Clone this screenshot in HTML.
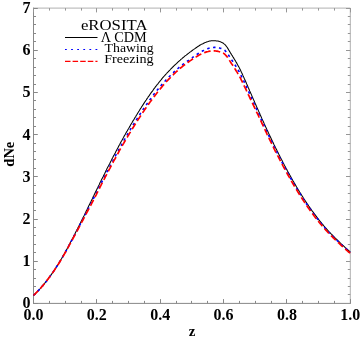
<!DOCTYPE html>
<html><head><meta charset="utf-8">
<style>
html,body{margin:0;padding:0;background:#fff;}
body{width:360px;height:339px;overflow:hidden;}
svg{display:block;will-change:transform;}
text{font-family:"Liberation Serif",serif;}
</style></head><body>
<svg width="360" height="339" viewBox="0 0 360 339">
<rect width="360" height="339" fill="#fff"/>
<g fill="none" stroke-width="1">
<line x1="33.5" y1="8.1" x2="350.3" y2="8.1" stroke="#b0b0b0"/>
<line x1="350.3" y1="8.1" x2="350.3" y2="303.4" stroke="#b0b0b0"/>
<line x1="33.5" y1="7.6" x2="33.5" y2="303.9" stroke="#888"/>
<line x1="33.5" y1="303.4" x2="350.8" y2="303.4" stroke="#888"/>
<line x1="33.5" y1="303.50" x2="37.8" y2="303.50" stroke="#888" stroke-width="1"/>
<line x1="350.3" y1="303.50" x2="346.0" y2="303.50" stroke="#969696" stroke-width="1"/>
<line x1="33.5" y1="294.50" x2="36.0" y2="294.50" stroke="#888" stroke-width="1"/>
<line x1="350.3" y1="294.50" x2="347.8" y2="294.50" stroke="#969696" stroke-width="1"/>
<line x1="33.5" y1="286.50" x2="36.0" y2="286.50" stroke="#888" stroke-width="1"/>
<line x1="350.3" y1="286.50" x2="347.8" y2="286.50" stroke="#969696" stroke-width="1"/>
<line x1="33.5" y1="278.50" x2="36.0" y2="278.50" stroke="#888" stroke-width="1"/>
<line x1="350.3" y1="278.50" x2="347.8" y2="278.50" stroke="#969696" stroke-width="1"/>
<line x1="33.5" y1="269.50" x2="36.0" y2="269.50" stroke="#888" stroke-width="1"/>
<line x1="350.3" y1="269.50" x2="347.8" y2="269.50" stroke="#969696" stroke-width="1"/>
<line x1="33.5" y1="261.50" x2="37.8" y2="261.50" stroke="#888" stroke-width="1"/>
<line x1="350.3" y1="261.50" x2="346.0" y2="261.50" stroke="#969696" stroke-width="1"/>
<line x1="33.5" y1="252.50" x2="36.0" y2="252.50" stroke="#888" stroke-width="1"/>
<line x1="350.3" y1="252.50" x2="347.8" y2="252.50" stroke="#969696" stroke-width="1"/>
<line x1="33.5" y1="244.50" x2="36.0" y2="244.50" stroke="#888" stroke-width="1"/>
<line x1="350.3" y1="244.50" x2="347.8" y2="244.50" stroke="#969696" stroke-width="1"/>
<line x1="33.5" y1="235.50" x2="36.0" y2="235.50" stroke="#888" stroke-width="1"/>
<line x1="350.3" y1="235.50" x2="347.8" y2="235.50" stroke="#969696" stroke-width="1"/>
<line x1="33.5" y1="227.50" x2="36.0" y2="227.50" stroke="#888" stroke-width="1"/>
<line x1="350.3" y1="227.50" x2="347.8" y2="227.50" stroke="#969696" stroke-width="1"/>
<line x1="33.5" y1="219.50" x2="37.8" y2="219.50" stroke="#888" stroke-width="1"/>
<line x1="350.3" y1="219.50" x2="346.0" y2="219.50" stroke="#969696" stroke-width="1"/>
<line x1="33.5" y1="210.50" x2="36.0" y2="210.50" stroke="#888" stroke-width="1"/>
<line x1="350.3" y1="210.50" x2="347.8" y2="210.50" stroke="#969696" stroke-width="1"/>
<line x1="33.5" y1="202.50" x2="36.0" y2="202.50" stroke="#888" stroke-width="1"/>
<line x1="350.3" y1="202.50" x2="347.8" y2="202.50" stroke="#969696" stroke-width="1"/>
<line x1="33.5" y1="193.50" x2="36.0" y2="193.50" stroke="#888" stroke-width="1"/>
<line x1="350.3" y1="193.50" x2="347.8" y2="193.50" stroke="#969696" stroke-width="1"/>
<line x1="33.5" y1="185.50" x2="36.0" y2="185.50" stroke="#888" stroke-width="1"/>
<line x1="350.3" y1="185.50" x2="347.8" y2="185.50" stroke="#969696" stroke-width="1"/>
<line x1="33.5" y1="176.50" x2="37.8" y2="176.50" stroke="#888" stroke-width="1"/>
<line x1="350.3" y1="176.50" x2="346.0" y2="176.50" stroke="#969696" stroke-width="1"/>
<line x1="33.5" y1="168.50" x2="36.0" y2="168.50" stroke="#888" stroke-width="1"/>
<line x1="350.3" y1="168.50" x2="347.8" y2="168.50" stroke="#969696" stroke-width="1"/>
<line x1="33.5" y1="159.50" x2="36.0" y2="159.50" stroke="#888" stroke-width="1"/>
<line x1="350.3" y1="159.50" x2="347.8" y2="159.50" stroke="#969696" stroke-width="1"/>
<line x1="33.5" y1="151.50" x2="36.0" y2="151.50" stroke="#888" stroke-width="1"/>
<line x1="350.3" y1="151.50" x2="347.8" y2="151.50" stroke="#969696" stroke-width="1"/>
<line x1="33.5" y1="143.50" x2="36.0" y2="143.50" stroke="#888" stroke-width="1"/>
<line x1="350.3" y1="143.50" x2="347.8" y2="143.50" stroke="#969696" stroke-width="1"/>
<line x1="33.5" y1="134.50" x2="37.8" y2="134.50" stroke="#888" stroke-width="1"/>
<line x1="350.3" y1="134.50" x2="346.0" y2="134.50" stroke="#969696" stroke-width="1"/>
<line x1="33.5" y1="126.50" x2="36.0" y2="126.50" stroke="#888" stroke-width="1"/>
<line x1="350.3" y1="126.50" x2="347.8" y2="126.50" stroke="#969696" stroke-width="1"/>
<line x1="33.5" y1="117.50" x2="36.0" y2="117.50" stroke="#888" stroke-width="1"/>
<line x1="350.3" y1="117.50" x2="347.8" y2="117.50" stroke="#969696" stroke-width="1"/>
<line x1="33.5" y1="109.50" x2="36.0" y2="109.50" stroke="#888" stroke-width="1"/>
<line x1="350.3" y1="109.50" x2="347.8" y2="109.50" stroke="#969696" stroke-width="1"/>
<line x1="33.5" y1="100.50" x2="36.0" y2="100.50" stroke="#888" stroke-width="1"/>
<line x1="350.3" y1="100.50" x2="347.8" y2="100.50" stroke="#969696" stroke-width="1"/>
<line x1="33.5" y1="92.50" x2="37.8" y2="92.50" stroke="#888" stroke-width="1"/>
<line x1="350.3" y1="92.50" x2="346.0" y2="92.50" stroke="#969696" stroke-width="1"/>
<line x1="33.5" y1="84.50" x2="36.0" y2="84.50" stroke="#888" stroke-width="1"/>
<line x1="350.3" y1="84.50" x2="347.8" y2="84.50" stroke="#969696" stroke-width="1"/>
<line x1="33.5" y1="75.50" x2="36.0" y2="75.50" stroke="#888" stroke-width="1"/>
<line x1="350.3" y1="75.50" x2="347.8" y2="75.50" stroke="#969696" stroke-width="1"/>
<line x1="33.5" y1="67.50" x2="36.0" y2="67.50" stroke="#888" stroke-width="1"/>
<line x1="350.3" y1="67.50" x2="347.8" y2="67.50" stroke="#969696" stroke-width="1"/>
<line x1="33.5" y1="58.50" x2="36.0" y2="58.50" stroke="#888" stroke-width="1"/>
<line x1="350.3" y1="58.50" x2="347.8" y2="58.50" stroke="#969696" stroke-width="1"/>
<line x1="33.5" y1="50.50" x2="37.8" y2="50.50" stroke="#888" stroke-width="1"/>
<line x1="350.3" y1="50.50" x2="346.0" y2="50.50" stroke="#969696" stroke-width="1"/>
<line x1="33.5" y1="41.50" x2="36.0" y2="41.50" stroke="#888" stroke-width="1"/>
<line x1="350.3" y1="41.50" x2="347.8" y2="41.50" stroke="#969696" stroke-width="1"/>
<line x1="33.5" y1="33.50" x2="36.0" y2="33.50" stroke="#888" stroke-width="1"/>
<line x1="350.3" y1="33.50" x2="347.8" y2="33.50" stroke="#969696" stroke-width="1"/>
<line x1="33.5" y1="24.50" x2="36.0" y2="24.50" stroke="#888" stroke-width="1"/>
<line x1="350.3" y1="24.50" x2="347.8" y2="24.50" stroke="#969696" stroke-width="1"/>
<line x1="33.5" y1="16.50" x2="36.0" y2="16.50" stroke="#888" stroke-width="1"/>
<line x1="350.3" y1="16.50" x2="347.8" y2="16.50" stroke="#969696" stroke-width="1"/>
<line x1="33.5" y1="8.50" x2="37.8" y2="8.50" stroke="#888" stroke-width="1"/>
<line x1="350.3" y1="8.50" x2="346.0" y2="8.50" stroke="#969696" stroke-width="1"/>
<line x1="33.50" y1="303.4" x2="33.50" y2="299.09999999999997" stroke="#888" stroke-width="1"/>
<line x1="33.50" y1="8.1" x2="33.50" y2="12.399999999999999" stroke="#969696" stroke-width="1"/>
<line x1="49.50" y1="303.4" x2="49.50" y2="300.9" stroke="#888" stroke-width="1"/>
<line x1="49.50" y1="8.1" x2="49.50" y2="10.6" stroke="#969696" stroke-width="1"/>
<line x1="65.50" y1="303.4" x2="65.50" y2="300.9" stroke="#888" stroke-width="1"/>
<line x1="65.50" y1="8.1" x2="65.50" y2="10.6" stroke="#969696" stroke-width="1"/>
<line x1="81.50" y1="303.4" x2="81.50" y2="300.9" stroke="#888" stroke-width="1"/>
<line x1="81.50" y1="8.1" x2="81.50" y2="10.6" stroke="#969696" stroke-width="1"/>
<line x1="96.50" y1="303.4" x2="96.50" y2="299.09999999999997" stroke="#888" stroke-width="1"/>
<line x1="96.50" y1="8.1" x2="96.50" y2="12.399999999999999" stroke="#969696" stroke-width="1"/>
<line x1="112.50" y1="303.4" x2="112.50" y2="300.9" stroke="#888" stroke-width="1"/>
<line x1="112.50" y1="8.1" x2="112.50" y2="10.6" stroke="#969696" stroke-width="1"/>
<line x1="128.50" y1="303.4" x2="128.50" y2="300.9" stroke="#888" stroke-width="1"/>
<line x1="128.50" y1="8.1" x2="128.50" y2="10.6" stroke="#969696" stroke-width="1"/>
<line x1="144.50" y1="303.4" x2="144.50" y2="300.9" stroke="#888" stroke-width="1"/>
<line x1="144.50" y1="8.1" x2="144.50" y2="10.6" stroke="#969696" stroke-width="1"/>
<line x1="160.50" y1="303.4" x2="160.50" y2="299.09999999999997" stroke="#888" stroke-width="1"/>
<line x1="160.50" y1="8.1" x2="160.50" y2="12.399999999999999" stroke="#969696" stroke-width="1"/>
<line x1="176.50" y1="303.4" x2="176.50" y2="300.9" stroke="#888" stroke-width="1"/>
<line x1="176.50" y1="8.1" x2="176.50" y2="10.6" stroke="#969696" stroke-width="1"/>
<line x1="191.50" y1="303.4" x2="191.50" y2="300.9" stroke="#888" stroke-width="1"/>
<line x1="191.50" y1="8.1" x2="191.50" y2="10.6" stroke="#969696" stroke-width="1"/>
<line x1="207.50" y1="303.4" x2="207.50" y2="300.9" stroke="#888" stroke-width="1"/>
<line x1="207.50" y1="8.1" x2="207.50" y2="10.6" stroke="#969696" stroke-width="1"/>
<line x1="223.50" y1="303.4" x2="223.50" y2="299.09999999999997" stroke="#888" stroke-width="1"/>
<line x1="223.50" y1="8.1" x2="223.50" y2="12.399999999999999" stroke="#969696" stroke-width="1"/>
<line x1="239.50" y1="303.4" x2="239.50" y2="300.9" stroke="#888" stroke-width="1"/>
<line x1="239.50" y1="8.1" x2="239.50" y2="10.6" stroke="#969696" stroke-width="1"/>
<line x1="255.50" y1="303.4" x2="255.50" y2="300.9" stroke="#888" stroke-width="1"/>
<line x1="255.50" y1="8.1" x2="255.50" y2="10.6" stroke="#969696" stroke-width="1"/>
<line x1="271.50" y1="303.4" x2="271.50" y2="300.9" stroke="#888" stroke-width="1"/>
<line x1="271.50" y1="8.1" x2="271.50" y2="10.6" stroke="#969696" stroke-width="1"/>
<line x1="286.50" y1="303.4" x2="286.50" y2="299.09999999999997" stroke="#888" stroke-width="1"/>
<line x1="286.50" y1="8.1" x2="286.50" y2="12.399999999999999" stroke="#969696" stroke-width="1"/>
<line x1="302.50" y1="303.4" x2="302.50" y2="300.9" stroke="#888" stroke-width="1"/>
<line x1="302.50" y1="8.1" x2="302.50" y2="10.6" stroke="#969696" stroke-width="1"/>
<line x1="318.50" y1="303.4" x2="318.50" y2="300.9" stroke="#888" stroke-width="1"/>
<line x1="318.50" y1="8.1" x2="318.50" y2="10.6" stroke="#969696" stroke-width="1"/>
<line x1="334.50" y1="303.4" x2="334.50" y2="300.9" stroke="#888" stroke-width="1"/>
<line x1="334.50" y1="8.1" x2="334.50" y2="10.6" stroke="#969696" stroke-width="1"/>
<line x1="350.50" y1="303.4" x2="350.50" y2="299.09999999999997" stroke="#888" stroke-width="1"/>
<line x1="350.50" y1="8.1" x2="350.50" y2="12.399999999999999" stroke="#969696" stroke-width="1"/>
</g>
<g fill="none" stroke-linejoin="round">
<path d="M33.5,295.4 L34.3,294.7 L35.0,294.0 L35.8,293.2 L36.5,292.5 L37.3,291.7 L38.0,290.9 L38.8,290.1 L39.5,289.3 L40.3,288.5 L41.1,287.6 L41.8,286.7 L42.6,285.9 L43.3,285.0 L44.1,284.0 L44.8,283.1 L45.6,282.2 L46.4,281.2 L47.1,280.2 L47.9,279.2 L48.6,278.2 L49.4,277.2 L50.1,276.2 L50.9,275.1 L51.6,274.1 L52.4,273.0 L53.2,271.9 L53.9,270.8 L54.7,269.6 L55.4,268.5 L56.2,267.3 L56.9,266.1 L57.7,265.0 L58.5,263.7 L59.2,262.5 L60.0,261.3 L60.7,260.0 L61.5,258.8 L62.2,257.5 L63.0,256.2 L63.7,254.8 L64.5,253.5 L65.3,252.1 L66.0,250.7 L66.8,249.4 L67.5,248.0 L68.3,246.5 L69.0,245.1 L69.8,243.7 L70.5,242.2 L71.3,240.8 L72.1,239.3 L72.8,237.9 L73.6,236.4 L74.3,234.9 L75.1,233.5 L75.8,232.0 L76.6,230.5 L77.4,229.0 L78.1,227.5 L78.9,226.0 L79.6,224.5 L80.4,223.0 L81.1,221.5 L81.9,220.0 L82.6,218.4 L83.4,216.9 L84.2,215.4 L84.9,213.9 L85.7,212.3 L86.4,210.8 L87.2,209.2 L87.9,207.7 L88.7,206.1 L89.5,204.6 L90.2,203.0 L91.0,201.5 L91.7,199.9 L92.5,198.4 L93.2,196.8 L94.0,195.2 L94.7,193.7 L95.5,192.1 L96.3,190.6 L97.0,189.0 L97.8,187.5 L98.5,185.9 L99.3,184.4 L100.0,182.8 L100.8,181.3 L101.5,179.8 L102.3,178.2 L103.1,176.7 L103.8,175.2 L104.6,173.7 L105.3,172.2 L106.1,170.6 L106.8,169.1 L107.6,167.6 L108.4,166.1 L109.1,164.7 L109.9,163.2 L110.6,161.7 L111.4,160.2 L112.1,158.8 L112.9,157.3 L113.6,155.8 L114.4,154.4 L115.2,152.9 L115.9,151.5 L116.7,150.1 L117.4,148.6 L118.2,147.2 L118.9,145.8 L119.7,144.4 L120.4,143.0 L121.2,141.6 L122.0,140.2 L122.7,138.9 L123.5,137.5 L124.2,136.1 L125.0,134.8 L125.7,133.5 L126.5,132.1 L127.3,130.8 L128.0,129.5 L128.8,128.2 L129.5,126.9 L130.3,125.6 L131.0,124.3 L131.8,123.0 L132.5,121.7 L133.3,120.4 L134.1,119.2 L134.8,117.9 L135.6,116.7 L136.3,115.4 L137.1,114.2 L137.8,113.0 L138.6,111.7 L139.4,110.5 L140.1,109.3 L140.9,108.1 L141.6,106.9 L142.4,105.7 L143.1,104.6 L143.9,103.4 L144.6,102.3 L145.4,101.1 L146.2,100.0 L146.9,98.9 L147.7,97.8 L148.4,96.6 L149.2,95.6 L149.9,94.5 L150.7,93.4 L151.4,92.3 L152.2,91.3 L153.0,90.3 L153.7,89.2 L154.5,88.2 L155.2,87.2 L156.0,86.2 L156.7,85.2 L157.5,84.3 L158.3,83.3 L159.0,82.3 L159.8,81.4 L160.5,80.5 L161.3,79.6 L162.0,78.6 L162.8,77.7 L163.5,76.9 L164.3,76.0 L165.1,75.1 L165.8,74.3 L166.6,73.5 L167.3,72.7 L168.1,71.9 L168.8,71.1 L169.6,70.3 L170.4,69.5 L171.1,68.7 L171.9,68.0 L172.6,67.2 L173.4,66.5 L174.1,65.7 L174.9,65.0 L175.6,64.3 L176.4,63.6 L177.2,62.8 L177.9,62.1 L178.7,61.4 L179.4,60.8 L180.2,60.1 L180.9,59.4 L181.7,58.8 L182.4,58.1 L183.2,57.5 L184.0,56.9 L184.7,56.2 L185.5,55.6 L186.2,55.1 L187.0,54.5 L187.7,53.9 L188.5,53.3 L189.3,52.7 L190.0,52.1 L190.8,51.6 L191.5,51.0 L192.3,50.5 L193.0,49.9 L193.8,49.4 L194.5,48.9 L195.3,48.3 L196.1,47.8 L196.8,47.3 L197.6,46.7 L198.3,46.2 L199.1,45.8 L199.8,45.3 L200.6,44.8 L201.4,44.4 L202.1,44.0 L202.9,43.7 L203.6,43.3 L204.4,42.9 L205.1,42.6 L205.9,42.3 L206.6,42.0 L207.4,41.7 L208.2,41.5 L208.9,41.3 L209.7,41.1 L210.4,41.0 L211.2,40.8 L211.9,40.8 L212.7,40.7 L213.4,40.7 L214.2,40.7 L215.0,40.7 L215.7,40.8 L216.5,40.9 L217.2,41.0 L218.0,41.1 L218.7,41.3 L219.5,41.6 L220.3,41.8 L221.0,42.1 L221.8,42.4 L222.5,42.8 L223.3,43.2 L224.0,43.8 L224.8,44.4 L225.5,45.3 L226.3,46.2 L227.1,47.3 L227.8,48.4 L228.6,49.7 L229.3,50.9 L230.1,52.2 L230.8,53.4 L231.6,54.7 L232.4,55.9 L233.1,57.1 L233.9,58.4 L234.6,59.6 L235.4,60.8 L236.1,62.1 L236.9,63.4 L237.6,64.8 L238.4,66.2 L239.2,67.6 L239.9,69.1 L240.7,70.6 L241.4,72.2 L242.2,73.8 L242.9,75.4 L243.7,77.1 L244.4,78.8 L245.2,80.5 L246.0,82.2 L246.7,83.9 L247.5,85.7 L248.2,87.4 L249.0,89.2 L249.7,90.9 L250.5,92.7 L251.3,94.4 L252.0,96.1 L252.8,97.9 L253.5,99.6 L254.3,101.3 L255.0,103.1 L255.8,104.8 L256.5,106.5 L257.3,108.2 L258.1,109.9 L258.8,111.6 L259.6,113.3 L260.3,115.0 L261.1,116.7 L261.8,118.4 L262.6,120.1 L263.4,121.8 L264.1,123.4 L264.9,125.1 L265.6,126.7 L266.4,128.4 L267.1,130.0 L267.9,131.6 L268.6,133.3 L269.4,134.9 L270.2,136.5 L270.9,138.1 L271.7,139.7 L272.4,141.3 L273.2,142.8 L273.9,144.4 L274.7,146.0 L275.4,147.5 L276.2,149.0 L277.0,150.6 L277.7,152.1 L278.5,153.6 L279.2,155.1 L280.0,156.6 L280.7,158.1 L281.5,159.6 L282.3,161.0 L283.0,162.5 L283.8,163.9 L284.5,165.4 L285.3,166.8 L286.0,168.2 L286.8,169.6 L287.5,171.0 L288.3,172.4 L289.1,173.8 L289.8,175.1 L290.6,176.5 L291.3,177.8 L292.1,179.2 L292.8,180.5 L293.6,181.8 L294.3,183.1 L295.1,184.4 L295.9,185.7 L296.6,187.0 L297.4,188.3 L298.1,189.5 L298.9,190.8 L299.6,192.0 L300.4,193.2 L301.2,194.4 L301.9,195.6 L302.7,196.8 L303.4,198.0 L304.2,199.2 L304.9,200.3 L305.7,201.5 L306.4,202.6 L307.2,203.8 L308.0,204.9 L308.7,206.0 L309.5,207.1 L310.2,208.2 L311.0,209.2 L311.7,210.3 L312.5,211.3 L313.3,212.4 L314.0,213.4 L314.8,214.4 L315.5,215.4 L316.3,216.4 L317.0,217.4 L317.8,218.4 L318.5,219.4 L319.3,220.3 L320.1,221.3 L320.8,222.2 L321.6,223.1 L322.3,224.0 L323.1,224.9 L323.8,225.8 L324.6,226.7 L325.3,227.6 L326.1,228.4 L326.9,229.3 L327.6,230.1 L328.4,231.0 L329.1,231.8 L329.9,232.6 L330.6,233.4 L331.4,234.2 L332.2,234.9 L332.9,235.7 L333.7,236.5 L334.4,237.2 L335.2,238.0 L335.9,238.7 L336.7,239.4 L337.4,240.2 L338.2,240.9 L339.0,241.6 L339.7,242.4 L340.5,243.1 L341.2,243.8 L342.0,244.5 L342.7,245.2 L343.5,245.9 L344.3,246.6 L345.0,247.3 L345.8,248.0 L346.5,248.7 L347.3,249.3 L348.0,250.0 L348.8,250.6 L349.5,251.3 L350.3,251.9" stroke="#000" stroke-width="1.05"/>
<path d="M33.5,295.4 L34.3,294.7 L35.0,294.0 L35.8,293.2 L36.5,292.5 L37.3,291.7 L38.0,290.9 L38.8,290.1 L39.5,289.3 L40.3,288.5 L41.1,287.6 L41.8,286.7 L42.6,285.9 L43.3,285.0 L44.1,284.1 L44.8,283.1 L45.6,282.2 L46.4,281.2 L47.1,280.3 L47.9,279.3 L48.6,278.3 L49.4,277.2 L50.1,276.2 L50.9,275.2 L51.6,274.1 L52.4,273.0 L53.2,271.9 L53.9,270.8 L54.7,269.7 L55.4,268.6 L56.2,267.4 L56.9,266.2 L57.7,265.1 L58.5,263.9 L59.2,262.6 L60.0,261.4 L60.7,260.2 L61.5,258.9 L62.2,257.6 L63.0,256.3 L63.7,255.0 L64.5,253.7 L65.3,252.3 L66.0,251.0 L66.8,249.6 L67.5,248.2 L68.3,246.8 L69.0,245.4 L69.8,244.0 L70.5,242.6 L71.3,241.2 L72.1,239.8 L72.8,238.3 L73.6,236.9 L74.3,235.5 L75.1,234.1 L75.8,232.6 L76.6,231.2 L77.4,229.8 L78.1,228.3 L78.9,226.9 L79.6,225.4 L80.4,223.9 L81.1,222.5 L81.9,221.0 L82.6,219.6 L83.4,218.1 L84.2,216.6 L84.9,215.2 L85.7,213.7 L86.4,212.2 L87.2,210.8 L87.9,209.3 L88.7,207.9 L89.5,206.4 L90.2,204.9 L91.0,203.5 L91.7,202.0 L92.5,200.5 L93.2,199.0 L94.0,197.5 L94.7,196.1 L95.5,194.6 L96.3,193.0 L97.0,191.5 L97.8,190.0 L98.5,188.5 L99.3,187.0 L100.0,185.5 L100.8,184.0 L101.5,182.5 L102.3,181.0 L103.1,179.5 L103.8,178.1 L104.6,176.6 L105.3,175.1 L106.1,173.6 L106.8,172.2 L107.6,170.7 L108.4,169.2 L109.1,167.8 L109.9,166.3 L110.6,164.9 L111.4,163.4 L112.1,162.0 L112.9,160.6 L113.6,159.2 L114.4,157.7 L115.2,156.3 L115.9,154.9 L116.7,153.5 L117.4,152.1 L118.2,150.8 L118.9,149.4 L119.7,148.0 L120.4,146.6 L121.2,145.3 L122.0,143.9 L122.7,142.6 L123.5,141.3 L124.2,140.0 L125.0,138.6 L125.7,137.3 L126.5,136.0 L127.3,134.8 L128.0,133.5 L128.8,132.2 L129.5,130.9 L130.3,129.7 L131.0,128.4 L131.8,127.2 L132.5,125.9 L133.3,124.7 L134.1,123.5 L134.8,122.3 L135.6,121.1 L136.3,119.9 L137.1,118.7 L137.8,117.5 L138.6,116.3 L139.4,115.1 L140.1,114.0 L140.9,112.8 L141.6,111.7 L142.4,110.5 L143.1,109.4 L143.9,108.3 L144.6,107.2 L145.4,106.1 L146.2,105.0 L146.9,103.9 L147.7,102.9 L148.4,101.8 L149.2,100.7 L149.9,99.7 L150.7,98.7 L151.4,97.6 L152.2,96.6 L153.0,95.6 L153.7,94.6 L154.5,93.6 L155.2,92.7 L156.0,91.7 L156.7,90.7 L157.5,89.8 L158.3,88.9 L159.0,87.9 L159.8,87.0 L160.5,86.1 L161.3,85.2 L162.0,84.4 L162.8,83.5 L163.5,82.6 L164.3,81.8 L165.1,81.0 L165.8,80.2 L166.6,79.4 L167.3,78.6 L168.1,77.8 L168.8,77.0 L169.6,76.3 L170.4,75.5 L171.1,74.8 L171.9,74.0 L172.6,73.3 L173.4,72.6 L174.1,71.9 L174.9,71.2 L175.6,70.5 L176.4,69.8 L177.2,69.1 L177.9,68.5 L178.7,67.8 L179.4,67.2 L180.2,66.5 L180.9,65.9 L181.7,65.3 L182.4,64.8 L183.2,64.2 L184.0,63.6 L184.7,63.1 L185.5,62.5 L186.2,62.0 L187.0,61.4 L187.7,60.9 L188.5,60.4 L189.3,59.8 L190.0,59.3 L190.8,58.7 L191.5,58.2 L192.3,57.7 L193.0,57.1 L193.8,56.6 L194.5,56.1 L195.3,55.6 L196.1,55.0 L196.8,54.5 L197.6,54.0 L198.3,53.5 L199.1,53.0 L199.8,52.5 L200.6,52.1 L201.4,51.6 L202.1,51.2 L202.9,50.8 L203.6,50.5 L204.4,50.1 L205.1,49.7 L205.9,49.4 L206.6,49.1 L207.4,48.8 L208.2,48.5 L208.9,48.3 L209.7,48.1 L210.4,47.9 L211.2,47.7 L211.9,47.6 L212.7,47.5 L213.4,47.5 L214.2,47.4 L215.0,47.4 L215.7,47.5 L216.5,47.5 L217.2,47.6 L218.0,47.7 L218.7,47.8 L219.5,48.0 L220.3,48.2 L221.0,48.4 L221.8,48.6 L222.5,48.9 L223.3,49.3 L224.0,49.8 L224.8,50.3 L225.5,51.1 L226.3,51.9 L227.1,52.9 L227.8,54.0 L228.6,55.1 L229.3,56.3 L230.1,57.4 L230.8,58.6 L231.6,59.8 L232.4,60.9 L233.1,62.0 L233.9,63.2 L234.6,64.3 L235.4,65.5 L236.1,66.7 L236.9,67.9 L237.6,69.2 L238.4,70.5 L239.2,71.8 L239.9,73.2 L240.7,74.7 L241.4,76.2 L242.2,77.7 L242.9,79.2 L243.7,80.8 L244.4,82.4 L245.2,84.1 L246.0,85.7 L246.7,87.4 L247.5,89.0 L248.2,90.7 L249.0,92.4 L249.7,94.1 L250.5,95.8 L251.3,97.5 L252.0,99.1 L252.8,100.8 L253.5,102.5 L254.3,104.2 L255.0,105.8 L255.8,107.5 L256.5,109.2 L257.3,110.9 L258.1,112.5 L258.8,114.2 L259.6,115.8 L260.3,117.5 L261.1,119.2 L261.8,120.8 L262.6,122.5 L263.4,124.1 L264.1,125.7 L264.9,127.4 L265.6,129.0 L266.4,130.6 L267.1,132.2 L267.9,133.8 L268.6,135.4 L269.4,137.0 L270.2,138.6 L270.9,140.2 L271.7,141.7 L272.4,143.3 L273.2,144.8 L273.9,146.4 L274.7,147.9 L275.4,149.4 L276.2,150.9 L277.0,152.5 L277.7,154.0 L278.5,155.4 L279.2,156.9 L280.0,158.4 L280.7,159.9 L281.5,161.3 L282.3,162.8 L283.0,164.2 L283.8,165.6 L284.5,167.0 L285.3,168.4 L286.0,169.8 L286.8,171.2 L287.5,172.6 L288.3,174.0 L289.1,175.3 L289.8,176.7 L290.6,178.0 L291.3,179.3 L292.1,180.6 L292.8,182.0 L293.6,183.3 L294.3,184.5 L295.1,185.8 L295.9,187.1 L296.6,188.3 L297.4,189.6 L298.1,190.8 L298.9,192.1 L299.6,193.3 L300.4,194.5 L301.2,195.7 L301.9,196.9 L302.7,198.0 L303.4,199.2 L304.2,200.4 L304.9,201.5 L305.7,202.6 L306.4,203.8 L307.2,204.9 L308.0,206.0 L308.7,207.1 L309.5,208.2 L310.2,209.2 L311.0,210.3 L311.7,211.3 L312.5,212.4 L313.3,213.4 L314.0,214.4 L314.8,215.4 L315.5,216.4 L316.3,217.4 L317.0,218.4 L317.8,219.3 L318.5,220.3 L319.3,221.2 L320.1,222.2 L320.8,223.1 L321.6,224.0 L322.3,224.9 L323.1,225.8 L323.8,226.7 L324.6,227.5 L325.3,228.4 L326.1,229.2 L326.9,230.1 L327.6,230.9 L328.4,231.7 L329.1,232.5 L329.9,233.3 L330.6,234.1 L331.4,234.9 L332.2,235.7 L332.9,236.4 L333.7,237.2 L334.4,237.9 L335.2,238.6 L335.9,239.4 L336.7,240.1 L337.4,240.8 L338.2,241.5 L339.0,242.3 L339.7,243.0 L340.5,243.7 L341.2,244.4 L342.0,245.1 L342.7,245.8 L343.5,246.5 L344.3,247.2 L345.0,247.9 L345.8,248.6 L346.5,249.2 L347.3,249.9 L348.0,250.5 L348.8,251.2 L349.5,251.8 L350.3,252.4" stroke="#00f" stroke-width="1.6" stroke-dasharray="2.5,3.5"/>
<path d="M33.5,295.4 L34.3,294.7 L35.0,294.0 L35.8,293.2 L36.5,292.5 L37.3,291.7 L38.0,290.9 L38.8,290.1 L39.5,289.3 L40.3,288.5 L41.1,287.6 L41.8,286.7 L42.6,285.9 L43.3,285.0 L44.1,284.1 L44.8,283.1 L45.6,282.2 L46.4,281.2 L47.1,280.3 L47.9,279.3 L48.6,278.3 L49.4,277.3 L50.1,276.2 L50.9,275.2 L51.6,274.1 L52.4,273.1 L53.2,272.0 L53.9,270.9 L54.7,269.8 L55.4,268.6 L56.2,267.5 L56.9,266.3 L57.7,265.1 L58.5,264.0 L59.2,262.8 L60.0,261.5 L60.7,260.3 L61.5,259.1 L62.2,257.8 L63.0,256.5 L63.7,255.2 L64.5,253.9 L65.3,252.5 L66.0,251.2 L66.8,249.8 L67.5,248.5 L68.3,247.1 L69.0,245.7 L69.8,244.3 L70.5,243.0 L71.3,241.6 L72.1,240.2 L72.8,238.8 L73.6,237.4 L74.3,236.0 L75.1,234.6 L75.8,233.2 L76.6,231.8 L77.4,230.4 L78.1,229.0 L78.9,227.6 L79.6,226.2 L80.4,224.7 L81.1,223.3 L81.9,221.9 L82.6,220.5 L83.4,219.0 L84.2,217.6 L84.9,216.2 L85.7,214.8 L86.4,213.3 L87.2,211.9 L87.9,210.5 L88.7,209.1 L89.5,207.7 L90.2,206.2 L91.0,204.8 L91.7,203.4 L92.5,201.9 L93.2,200.5 L94.0,199.0 L94.7,197.6 L95.5,196.1 L96.3,194.6 L97.0,193.1 L97.8,191.7 L98.5,190.2 L99.3,188.7 L100.0,187.2 L100.8,185.7 L101.5,184.2 L102.3,182.8 L103.1,181.3 L103.8,179.9 L104.6,178.4 L105.3,176.9 L106.1,175.5 L106.8,174.0 L107.6,172.6 L108.4,171.2 L109.1,169.7 L109.9,168.3 L110.6,166.9 L111.4,165.5 L112.1,164.1 L112.9,162.6 L113.6,161.2 L114.4,159.8 L115.2,158.5 L115.9,157.1 L116.7,155.7 L117.4,154.3 L118.2,153.0 L118.9,151.6 L119.7,150.2 L120.4,148.9 L121.2,147.6 L122.0,146.2 L122.7,144.9 L123.5,143.6 L124.2,142.3 L125.0,141.0 L125.7,139.7 L126.5,138.4 L127.3,137.2 L128.0,135.9 L128.8,134.7 L129.5,133.4 L130.3,132.2 L131.0,130.9 L131.8,129.7 L132.5,128.5 L133.3,127.2 L134.1,126.0 L134.8,124.8 L135.6,123.6 L136.3,122.4 L137.1,121.2 L137.8,120.1 L138.6,118.9 L139.4,117.7 L140.1,116.6 L140.9,115.4 L141.6,114.3 L142.4,113.1 L143.1,112.0 L143.9,110.9 L144.6,109.8 L145.4,108.7 L146.2,107.6 L146.9,106.5 L147.7,105.5 L148.4,104.4 L149.2,103.3 L149.9,102.3 L150.7,101.3 L151.4,100.3 L152.2,99.2 L153.0,98.2 L153.7,97.2 L154.5,96.2 L155.2,95.2 L156.0,94.3 L156.7,93.3 L157.5,92.3 L158.3,91.4 L159.0,90.4 L159.8,89.5 L160.5,88.6 L161.3,87.6 L162.0,86.7 L162.8,85.8 L163.5,85.0 L164.3,84.1 L165.1,83.2 L165.8,82.4 L166.6,81.5 L167.3,80.7 L168.1,79.9 L168.8,79.1 L169.6,78.3 L170.4,77.6 L171.1,76.8 L171.9,76.0 L172.6,75.3 L173.4,74.6 L174.1,73.8 L174.9,73.1 L175.6,72.4 L176.4,71.7 L177.2,71.0 L177.9,70.3 L178.7,69.7 L179.4,69.0 L180.2,68.4 L180.9,67.7 L181.7,67.1 L182.4,66.5 L183.2,65.9 L184.0,65.3 L184.7,64.7 L185.5,64.2 L186.2,63.6 L187.0,63.1 L187.7,62.5 L188.5,62.0 L189.3,61.4 L190.0,60.9 L190.8,60.4 L191.5,59.8 L192.3,59.3 L193.0,58.8 L193.8,58.3 L194.5,57.9 L195.3,57.4 L196.1,56.9 L196.8,56.4 L197.6,56.0 L198.3,55.5 L199.1,55.1 L199.8,54.7 L200.6,54.3 L201.4,53.9 L202.1,53.6 L202.9,53.3 L203.6,53.0 L204.4,52.7 L205.1,52.4 L205.9,52.1 L206.6,51.9 L207.4,51.7 L208.2,51.5 L208.9,51.3 L209.7,51.2 L210.4,51.1 L211.2,51.0 L211.9,50.9 L212.7,50.9 L213.4,50.9 L214.2,50.9 L215.0,50.9 L215.7,51.0 L216.5,51.1 L217.2,51.2 L218.0,51.3 L218.7,51.5 L219.5,51.7 L220.3,51.9 L221.0,52.1 L221.8,52.4 L222.5,52.7 L223.3,53.1 L224.0,53.6 L224.8,54.2 L225.5,55.0 L226.3,55.9 L227.1,56.8 L227.8,57.9 L228.6,59.0 L229.3,60.2 L230.1,61.4 L230.8,62.5 L231.6,63.7 L232.4,64.8 L233.1,66.0 L233.9,67.1 L234.6,68.3 L235.4,69.5 L236.1,70.7 L236.9,71.9 L237.6,73.1 L238.4,74.4 L239.2,75.8 L239.9,77.2 L240.7,78.6 L241.4,80.1 L242.2,81.6 L242.9,83.1 L243.7,84.7 L244.4,86.3 L245.2,87.9 L246.0,89.5 L246.7,91.1 L247.5,92.7 L248.2,94.3 L249.0,95.9 L249.7,97.5 L250.5,99.1 L251.3,100.7 L252.0,102.3 L252.8,103.8 L253.5,105.4 L254.3,107.0 L255.0,108.6 L255.8,110.2 L256.5,111.8 L257.3,113.4 L258.1,114.9 L258.8,116.5 L259.6,118.2 L260.3,119.8 L261.1,121.4 L261.8,123.0 L262.6,124.6 L263.4,126.3 L264.1,127.9 L264.9,129.5 L265.6,131.1 L266.4,132.7 L267.1,134.3 L267.9,135.9 L268.6,137.4 L269.4,139.0 L270.2,140.6 L270.9,142.1 L271.7,143.7 L272.4,145.2 L273.2,146.7 L273.9,148.3 L274.7,149.8 L275.4,151.3 L276.2,152.8 L277.0,154.3 L277.7,155.7 L278.5,157.2 L279.2,158.7 L280.0,160.1 L280.7,161.6 L281.5,163.0 L282.3,164.4 L283.0,165.9 L283.8,167.3 L284.5,168.7 L285.3,170.1 L286.0,171.4 L286.8,172.8 L287.5,174.2 L288.3,175.5 L289.1,176.9 L289.8,178.2 L290.6,179.5 L291.3,180.9 L292.1,182.2 L292.8,183.5 L293.6,184.8 L294.3,186.0 L295.1,187.3 L295.9,188.6 L296.6,189.8 L297.4,191.1 L298.1,192.3 L298.9,193.5 L299.6,194.7 L300.4,195.9 L301.2,197.1 L301.9,198.3 L302.7,199.5 L303.4,200.6 L304.2,201.8 L304.9,202.9 L305.7,204.1 L306.4,205.2 L307.2,206.3 L308.0,207.4 L308.7,208.5 L309.5,209.5 L310.2,210.6 L311.0,211.7 L311.7,212.7 L312.5,213.7 L313.3,214.7 L314.0,215.7 L314.8,216.7 L315.5,217.7 L316.3,218.7 L317.0,219.7 L317.8,220.6 L318.5,221.5 L319.3,222.5 L320.1,223.4 L320.8,224.3 L321.6,225.2 L322.3,226.1 L323.1,227.0 L323.8,227.8 L324.6,228.7 L325.3,229.5 L326.1,230.4 L326.9,231.2 L327.6,232.0 L328.4,232.8 L329.1,233.6 L329.9,234.4 L330.6,235.2 L331.4,236.0 L332.2,236.7 L332.9,237.5 L333.7,238.2 L334.4,238.9 L335.2,239.7 L335.9,240.4 L336.7,241.1 L337.4,241.8 L338.2,242.5 L339.0,243.2 L339.7,243.9 L340.5,244.7 L341.2,245.4 L342.0,246.1 L342.7,246.7 L343.5,247.4 L344.3,248.1 L345.0,248.8 L345.8,249.4 L346.5,250.1 L347.3,250.7 L348.0,251.4 L348.8,252.0 L349.5,252.6 L350.3,253.2" stroke="#f00" stroke-width="1.7" stroke-dasharray="6.6,3.1"/>
</g>
<g fill="none">
<line x1="65" y1="37.5" x2="97.5" y2="37.5" stroke="#000" stroke-width="1"/>
<line x1="65" y1="49.5" x2="97.5" y2="49.5" stroke="#00f" stroke-width="1.2" stroke-dasharray="1.8,4.3"/>
<line x1="65" y1="61.4" x2="97.5" y2="61.4" stroke="#f00" stroke-width="1.25" stroke-dasharray="5.5,2.1"/>
</g>
<g fill="#000" font-size="14.5">
<text x="80.9" y="29.5" textLength="66.6" lengthAdjust="spacingAndGlyphs">eROSITA</text>
</g>
<g fill="#000" font-size="13.5">
<text x="100.8" y="41.5" textLength="46" lengthAdjust="spacingAndGlyphs" font-size="14.5">Λ CDM</text>
<text x="104.6" y="52" textLength="49" lengthAdjust="spacingAndGlyphs">Thawing</text>
<text x="104.2" y="62.8" textLength="49.5" lengthAdjust="spacingAndGlyphs">Freezing</text>
</g>
<g fill="#000" font-size="16" font-weight="bold">
<text x="30.6" y="308.40" text-anchor="end">0</text>
<text x="30.6" y="266.21" text-anchor="end">1</text>
<text x="30.6" y="224.03" text-anchor="end">2</text>
<text x="30.6" y="181.84" text-anchor="end">3</text>
<text x="30.6" y="139.66" text-anchor="end">4</text>
<text x="30.6" y="97.47" text-anchor="end">5</text>
<text x="30.6" y="55.29" text-anchor="end">6</text>
<text x="30.6" y="13.10" text-anchor="end">7</text>
<text x="33.50" y="319.7" text-anchor="middle">0.0</text>
<text x="96.86" y="319.7" text-anchor="middle">0.2</text>
<text x="160.22" y="319.7" text-anchor="middle">0.4</text>
<text x="223.58" y="319.7" text-anchor="middle">0.6</text>
<text x="286.94" y="319.7" text-anchor="middle">0.8</text>
<text x="350.30" y="319.7" text-anchor="middle">1.0</text>
<text x="192.1" y="335.5" text-anchor="middle" font-size="15">z</text>
<text transform="translate(14.1,154.2) rotate(-90)" text-anchor="middle" font-size="14.5">dNe</text>
</g>
</svg>
</body></html>
